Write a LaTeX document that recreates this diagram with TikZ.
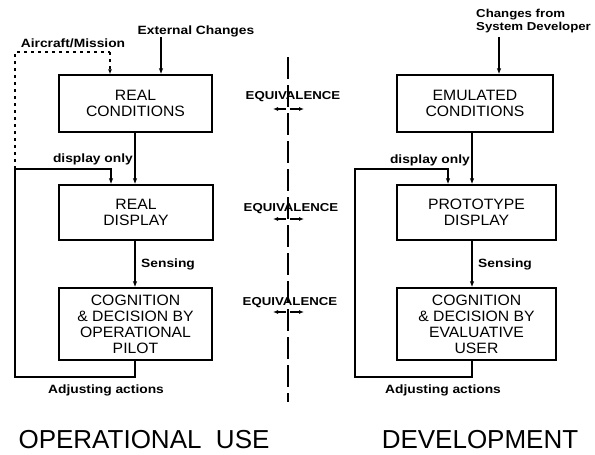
\documentclass[tikz,border=0pt]{standalone}
\usepackage{fontspec}
\setmainfont{Liberation Sans}
\newfontfamily\lblfont[FakeStretch=1.15]{Liberation Sans}
\newfontfamily\boxfont[FakeStretch=1.05]{Liberation Sans}
\usetikzlibrary{arrows.meta}
\begin{document}
\begin{tikzpicture}[x=1pt,y=-1pt,
  box/.style={draw, line width=1.3pt, align=center, inner sep=2pt,
              font=\boxfont\fontsize{15}{16}\selectfont},
  lbl/.style={font=\lblfont\bfseries\fontsize{12}{13}\selectfont, inner sep=1pt},
  eqlbl/.style={font=\lblfont\bfseries\fontsize{11.5}{12}\selectfont, inner sep=1pt},
  title/.style={font=\fontsize{26}{28}\selectfont, inner sep=0pt},
  conn/.style={line width=1.2pt},
  arr/.style={conn, -{Latex[length=6pt,width=4.5pt]}},
  earr/.style={line width=1.2pt, -{Latex[length=5pt,width=4pt]}},
  dotl/.style={line width=1.2pt, dash pattern=on 3pt off 4pt},
  cline/.style={line width=1.4pt, dash pattern=on 22pt off 6pt}]
\path[use as bounding box] (0,0) rectangle (595,455);

% ---------------- left column ----------------
\node[box, minimum width=153pt, minimum height=57pt] (rc) at (135.5,103.5) {REAL\\CONDITIONS};
\node[box, minimum width=154pt, minimum height=55pt] (rd) at (136,212.5) {REAL\\DISPLAY};
\node[box, minimum width=153pt, minimum height=72pt] (cg) at (135.5,324) {COGNITION\\\& DECISION BY\\OPERATIONAL\\PILOT};

\node[lbl] (ext) at (196,31) {External Changes};
\node[lbl] (am) at (73,43) {Aircraft/Mission};
\node[lbl, anchor=east] (do1) at (134,159) {display only};
\node[lbl, anchor=west] (se1) at (140,264) {Sensing};
\node[lbl] (ad1) at (106,390) {Adjusting actions};
\node[title] (t1) at (144,440) {OPERATIONAL\ \ USE};

\coordinate (xe) at (161,37);
\coordinate (la) at (135,0);
\coordinate (lb) at (135,377);
\coordinate (lbl) at (15,377);
\coordinate (ltl) at (15,169);
\coordinate (ltr) at (111,169);
\coordinate (am0) at (15,52);
\coordinate (am1) at (110,52);

\draw[arr] (xe) -- (rc.north -| xe);
\draw[arr] (rc.south -| la) -- (rd.north -| la);
\draw[arr] (rd.south -| la) -- (cg.north -| la);
\draw[arr] (cg.south -| lb) -- (lb) -- (lbl) -- (ltl) -- (ltr) -- (rd.north -| ltr);
\draw[dotl] (ltl) -- (am0) -- (am1);
\draw[dotl, -{Latex[length=5pt,width=4pt]}] (am1) -- (rc.north -| am1);

% ---------------- right column ----------------
\node[box, minimum width=156pt, minimum height=57pt] (ec) at (475,103.5) {EMULATED\\CONDITIONS};
\node[box, minimum width=159pt, minimum height=55pt] (pd) at (476.5,212.5) {PROTOTYPE\\DISPLAY};
\node[box, minimum width=159pt, minimum height=72pt] (cg2) at (476.5,324) {COGNITION\\\& DECISION BY\\EVALUATIVE\\USER};

\node[lbl, align=left, anchor=west, font=\lblfont\bfseries\fontsize{11.5}{12.5}\selectfont] (chg) at (475,21) {Changes from\\System Developer};
\node[lbl, anchor=east] (do2) at (471,160) {display only};
\node[lbl, anchor=west] (se2) at (477,264) {Sensing};
\node[lbl] (ad2) at (443,390) {Adjusting actions};
\node[title] (t2) at (480,440) {DEVELOPMENT};

\coordinate (xc) at (499,37);
\coordinate (ra) at (472,0);
\coordinate (rb) at (472,377);
\coordinate (rbl) at (355,377);
\coordinate (rtl) at (355,169);
\coordinate (rtr) at (448,169);

\draw[arr] (xc) -- (ec.north -| xc);
\draw[arr] (ec.south -| ra) -- (pd.north -| ra);
\draw[arr] (pd.south -| ra) -- (cg2.north -| ra);
\draw[arr] (cg2.south -| rb) -- (rb) -- (rbl) -- (rtl) -- (rtr) -- (pd.north -| rtr);

% ---------------- centre ----------------
\coordinate (ct) at (288,57);
\coordinate (cb) at (288,402);
\draw[cline] (ct) -- (cb);

\node[eqlbl] (eq1) at (293,97) {EQUIVALENCE};
\node[eqlbl] (eq2) at (291,209) {EQUIVALENCE};
\node[eqlbl] (eq3) at (290,303) {EQUIVALENCE};

\coordinate (e1a) at (286,109); \coordinate (e1b) at (273,109);
\coordinate (e1c) at (290,109); \coordinate (e1d) at (304,109);
\coordinate (e2a) at (286,219); \coordinate (e2b) at (273,219);
\coordinate (e2c) at (290,219); \coordinate (e2d) at (304,219);
\coordinate (e3a) at (286,312); \coordinate (e3b) at (273,312);
\coordinate (e3c) at (290,312); \coordinate (e3d) at (304,312);
\draw[earr] (e1a) -- (e1b);
\draw[earr] (e1c) -- (e1d);
\draw[earr] (e2a) -- (e2b);
\draw[earr] (e2c) -- (e2d);
\draw[earr] (e3a) -- (e3b);
\draw[earr] (e3c) -- (e3d);
\end{tikzpicture}
\end{document}
